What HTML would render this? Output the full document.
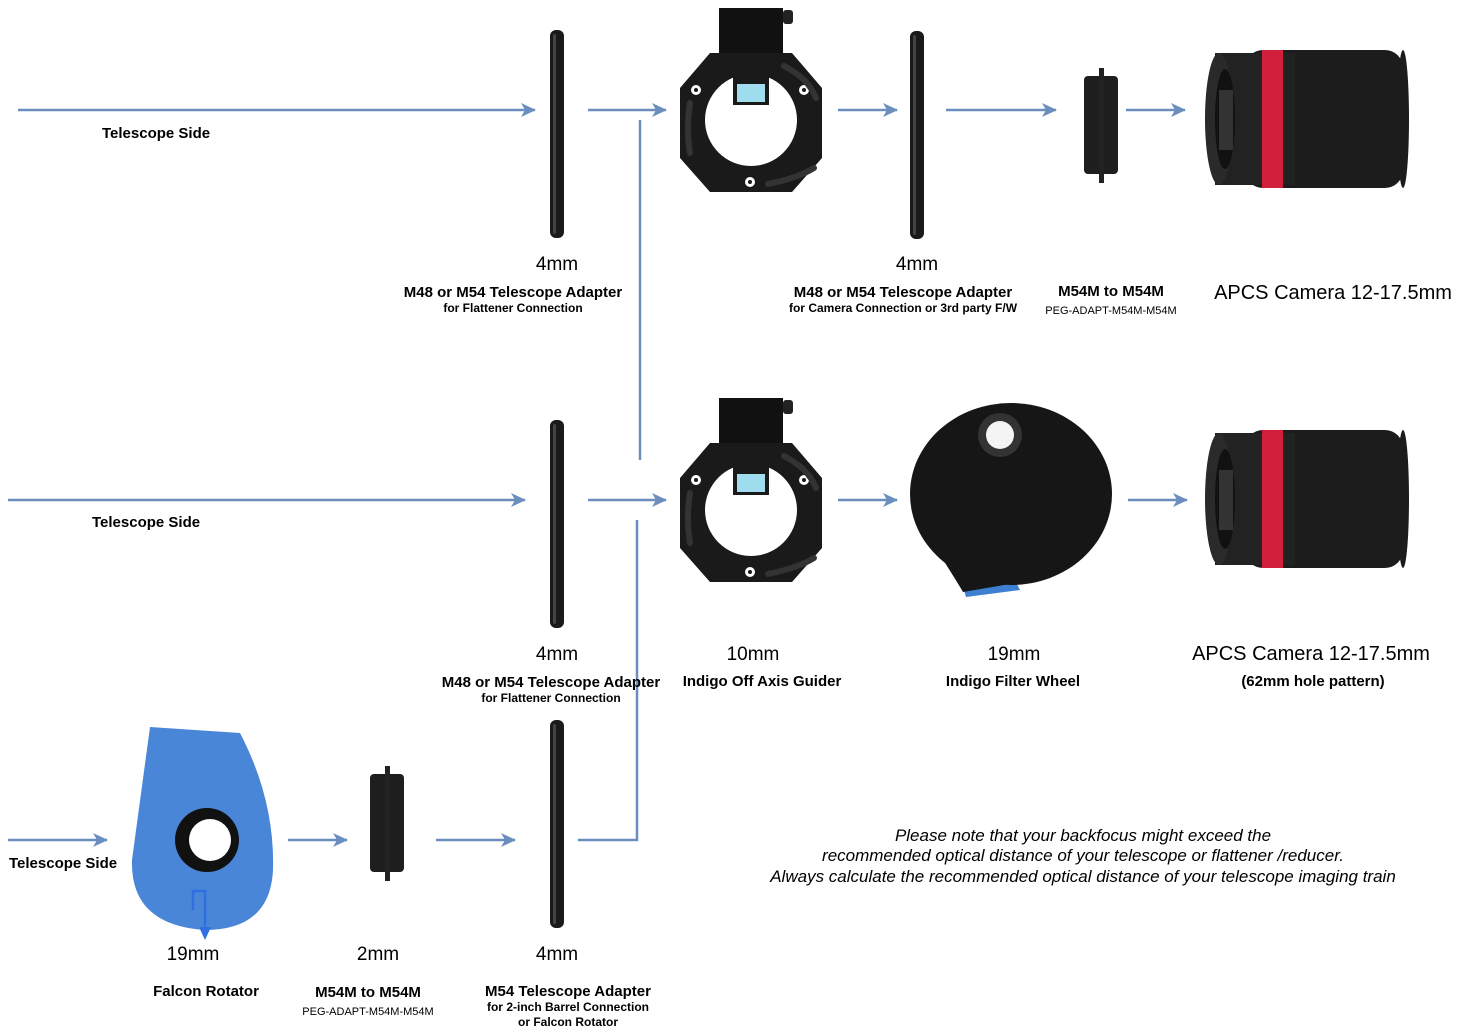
<!DOCTYPE html>
<html><head><meta charset="utf-8"><style>
html,body{margin:0;padding:0;background:#fff;}
svg text{font-family:"Liberation Sans",Arial,sans-serif;fill:#000;}
.b{font-weight:bold;}
</style></head><body>
<svg width="1459" height="1031" viewBox="0 0 1459 1031" xmlns="http://www.w3.org/2000/svg">
<defs>
<marker id="ar" markerWidth="15" markerHeight="14" refX="14" refY="7" orient="auto" markerUnits="userSpaceOnUse">
<path d="M0,0 L15,7 L0,14 L4,7 Z" fill="#6c8ebf"/></marker>
<g id="ring"><rect x="0" y="0" width="14" height="208" rx="6" fill="#1a1a1a"/><rect x="3" y="4" width="3" height="200" rx="1.5" fill="#444"/></g>
<g id="oag">
<rect x="39" y="0" width="64" height="50" fill="#111"/>
<rect x="103" y="2" width="10" height="14" rx="3" fill="#222"/>
<path d="M30,45 L112,45 L142,80 L142,150 L112,184 L30,184 L0,150 L0,80 Z" fill="#1a1a1a"/>
<circle cx="71" cy="112" r="46" fill="#fff"/>
<rect x="53" y="65" width="36" height="32" fill="#1a1a1a"/>
<rect x="57" y="76" width="28" height="18" fill="#9fdcee"/>
<circle cx="16" cy="82" r="5" fill="#fff"/><circle cx="16" cy="82" r="2" fill="#1a1a1a"/>
<circle cx="124" cy="82" r="5" fill="#fff"/><circle cx="124" cy="82" r="2" fill="#1a1a1a"/>
<circle cx="70" cy="174" r="5" fill="#fff"/><circle cx="70" cy="174" r="2" fill="#1a1a1a"/>
<path d="M10,95 Q6,120 10,145" stroke="#333" stroke-width="6" fill="none" stroke-linecap="round"/>
<path d="M104,58 Q128,70 136,90" stroke="#333" stroke-width="6" fill="none" stroke-linecap="round"/>
<path d="M88,176 Q118,170 134,160" stroke="#333" stroke-width="6" fill="none" stroke-linecap="round"/>
</g>
<g id="cam">
<rect x="40" y="0" width="158" height="138" rx="18" fill="#1c1c1c"/>
<ellipse cx="198" cy="69" rx="6" ry="69" fill="#1c1c1c"/>
<rect x="10" y="3" width="80" height="132" fill="#222"/>
<rect x="57" y="0" width="21" height="138" fill="#d21f3c"/>
<ellipse cx="14" cy="69" rx="14" ry="66" fill="#2a2a2a"/>
<ellipse cx="20" cy="69" rx="10" ry="50" fill="#111"/>
<rect x="14" y="40" width="14" height="60" fill="#333"/>
</g>
<g id="adp">
<rect x="0" y="8" width="34" height="98" rx="4" fill="#1e1e1e"/>
<rect x="15" y="0" width="5" height="115" fill="#222"/>
</g>
</defs>

<g stroke="#6c8ebf" stroke-width="2.5" fill="none">
<line x1="18" y1="110" x2="535" y2="110" marker-end="url(#ar)"/>
<line x1="588" y1="110" x2="666" y2="110" marker-end="url(#ar)"/>
<line x1="838" y1="110" x2="897" y2="110" marker-end="url(#ar)"/>
<line x1="946" y1="110" x2="1056" y2="110" marker-end="url(#ar)"/>
<line x1="1126" y1="110" x2="1185" y2="110" marker-end="url(#ar)"/>
<line x1="640" y1="120" x2="640" y2="460"/>
<line x1="8" y1="500" x2="525" y2="500" marker-end="url(#ar)"/>
<line x1="588" y1="500" x2="666" y2="500" marker-end="url(#ar)"/>
<line x1="838" y1="500" x2="897" y2="500" marker-end="url(#ar)"/>
<line x1="1128" y1="500" x2="1187" y2="500" marker-end="url(#ar)"/>
<polyline points="637,520 637,840 578,840"/>
<line x1="8" y1="840" x2="107" y2="840" marker-end="url(#ar)"/>
<line x1="288" y1="840" x2="347" y2="840" marker-end="url(#ar)"/>
<line x1="436" y1="840" x2="515" y2="840" marker-end="url(#ar)"/>
</g>

<use href="#ring" x="550" y="30"/>
<use href="#ring" x="910" y="31"/>
<use href="#ring" x="550" y="420"/>
<use href="#ring" x="550" y="720"/>
<use href="#oag" x="680" y="8"/>
<use href="#oag" x="680" y="398"/>
<use href="#adp" x="1084" y="68"/>
<use href="#adp" x="370" y="766"/>
<use href="#cam" x="1205" y="50"/>
<use href="#cam" x="1205" y="430"/>

<!-- filter wheel -->
<path d="M955,560 L966,597 L1020,590 L1010,570 Z" fill="#3d7fd0"/>
<ellipse cx="1011" cy="494" rx="101" ry="91" fill="#161616"/>
<path d="M930,540 Q950,570 963,592 L1010,584 L1000,560 Z" fill="#161616"/>
<circle cx="1000" cy="435" r="22" fill="#333"/>
<circle cx="1000" cy="435" r="14" fill="#f4f4f4"/>

<!-- falcon rotator -->
<path d="M150,727 L240,733 Q275,800 273,870 Q270,930 205,930 Q130,925 132,860 Z" fill="#4a86d8"/>
<circle cx="207" cy="840" r="32" fill="#111"/>
<circle cx="210" cy="840" r="21" fill="#fff"/>
<polyline points="193,910 193,891 205,891 205,928" stroke="#2f6fe0" stroke-width="2.5" fill="none"/>
<path d="M199,927 L211,927 L205,940 Z" fill="#2f6fe0"/>

<text x="102" y="138" font-size="15" class="b">Telescope Side</text>
<text x="92" y="527" font-size="15" class="b">Telescope Side</text>
<text x="9" y="868" font-size="15" class="b">Telescope Side</text>

<g text-anchor="middle">
<text x="557" y="270" font-size="19">4mm</text>
<text x="513" y="297" font-size="15" class="b">M48 or M54 Telescope Adapter</text>
<text x="513" y="312" font-size="12" class="b">for Flattener Connection</text>
<text x="917" y="270" font-size="19">4mm</text>
<text x="903" y="297" font-size="15" class="b">M48 or M54 Telescope Adapter</text>
<text x="903" y="312" font-size="12" class="b">for Camera Connection or 3rd party F/W</text>
<text x="1111" y="296" font-size="15" class="b">M54M to M54M</text>
<text x="1111" y="314" font-size="11">PEG-ADAPT-M54M-M54M</text>
<text x="1333" y="299" font-size="20">APCS Camera 12-17.5mm</text>

<text x="557" y="660" font-size="19">4mm</text>
<text x="551" y="687" font-size="15" class="b">M48 or M54 Telescope Adapter</text>
<text x="551" y="702" font-size="12" class="b">for Flattener Connection</text>
<text x="753" y="660" font-size="19">10mm</text>
<text x="762" y="686" font-size="15" class="b">Indigo Off Axis Guider</text>
<text x="1014" y="660" font-size="19">19mm</text>
<text x="1013" y="686" font-size="15" class="b">Indigo Filter Wheel</text>
<text x="1311" y="660" font-size="20">APCS Camera 12-17.5mm</text>
<text x="1313" y="686" font-size="15" class="b">(62mm hole pattern)</text>

<text x="193" y="960" font-size="19">19mm</text>
<text x="206" y="996" font-size="15" class="b">Falcon Rotator</text>
<text x="378" y="960" font-size="19">2mm</text>
<text x="368" y="997" font-size="15" class="b">M54M to M54M</text>
<text x="368" y="1015" font-size="11">PEG-ADAPT-M54M-M54M</text>
<text x="557" y="960" font-size="19">4mm</text>
<text x="568" y="996" font-size="15" class="b">M54 Telescope Adapter</text>
<text x="568" y="1011" font-size="12" class="b">for 2-inch Barrel Connection</text>
<text x="568" y="1026" font-size="12" class="b">or Falcon Rotator</text>

<text x="1083" y="841" font-size="17" font-style="italic">Please note that your backfocus might exceed the</text>
<text x="1083" y="861" font-size="17" font-style="italic">recommended optical distance of your telescope or flattener /reducer.</text>
<text x="1083" y="882" font-size="17" font-style="italic">Always calculate the recommended optical distance of your telescope imaging train</text>
</g>
</svg>
</body></html>
